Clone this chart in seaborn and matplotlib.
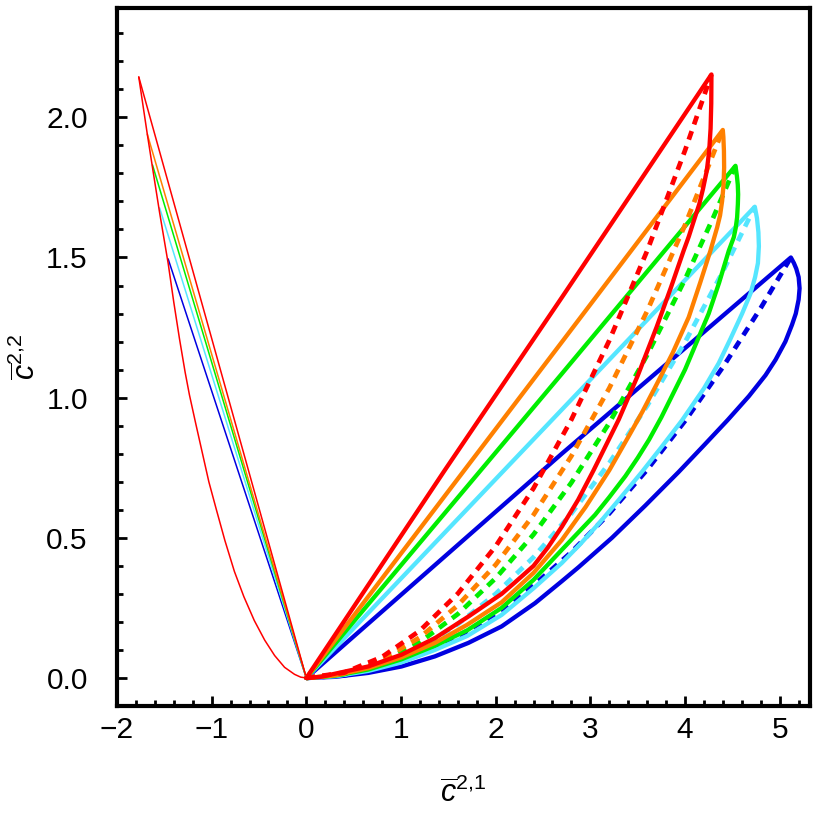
import matplotlib
matplotlib.use("Agg")
import matplotlib.pyplot as plt
import seaborn as sns
import pandas as pd
from matplotlib.ticker import MultipleLocator

# ---------------- data ----------------
# closed loops on the right: origin -> apex (upper branch) -> back to origin (lower branch)
red_loop_x = [0, 1.46, 2.70, 4.279,
              4.277, 4.27, 4.255, 4.23, 4.19, 4.15, 4.092, 4.04, 3.986, 3.85, 3.7, 3.5, 3.3,
              3.034, 2.87, 2.7, 2.55, 2.4, 2.2, 2.063, 1.711, 1.358, 1.005, 0.653, 0.3, 0.15, 0]
red_loop_y = [0, 0.74, 1.358, 2.153,
              2.05, 1.96, 1.88, 1.81, 1.745, 1.69, 1.63, 1.575, 1.525, 1.392, 1.252, 1.078, 0.922,
              0.741, 0.635, 0.54, 0.465, 0.40, 0.34, 0.30, 0.219, 0.142, 0.083, 0.041, 0.015, 0.004, 0]

orange_loop_x = [0, 2.698, 4.399,
                 4.405, 4.411, 4.413, 4.407, 4.392, 4.37, 4.339, 4.268, 4.16, 4.039, 3.87, 3.704,
                 3.55, 3.421, 3.20, 2.95, 2.698, 2.4, 2.063, 1.7, 1.358, 1.0, 0.653, 0.3, 0]
orange_loop_y = [0, 1.198, 1.955,
                 1.93, 1.88, 1.821, 1.76, 1.702, 1.65, 1.607, 1.524, 1.41, 1.287, 1.16, 1.05,
                 0.95, 0.872, 0.741, 0.61, 0.492, 0.375, 0.27, 0.19, 0.125, 0.073, 0.035, 0.009, 0]

green_loop_x = [0, 2.698, 4.533,
                4.548, 4.557, 4.561, 4.558, 4.55, 4.535, 4.515, 4.462, 4.36, 4.25, 4.0, 3.75, 3.62,
                3.5, 3.37, 3.2, 3.05, 2.698, 2.4, 2.063, 1.7, 1.358, 1.0, 0.653, 0.3, 0]
green_loop_y = [0, 1.085, 1.827,
                1.79, 1.76, 1.725, 1.69, 1.643, 1.605, 1.572, 1.524, 1.41, 1.30, 1.10, 0.93, 0.85,
                0.785, 0.72, 0.645, 0.582, 0.457, 0.35, 0.25, 0.17, 0.115, 0.066, 0.03, 0.008, 0]

cyan_loop_x = [0, 2.698, 4.737,
               4.76, 4.775, 4.78, 4.77, 4.74, 4.69, 4.603, 4.48, 4.356, 4.2, 3.968, 3.75, 3.545,
               3.3, 3.1, 2.9, 2.698, 2.4, 2.063, 1.7, 1.358, 1.0, 0.653, 0.3, 0]
cyan_loop_y = [0, 0.957, 1.681,
               1.64, 1.59, 1.54, 1.48, 1.43, 1.37, 1.30, 1.21, 1.123, 1.033, 0.919, 0.823, 0.735,
               0.635, 0.555, 0.48, 0.41, 0.32, 0.225, 0.15, 0.10, 0.055, 0.025, 0.006, 0]

blue_loop_x = [0, 2.698, 5.118,
               5.15, 5.175, 5.2, 5.21, 5.2, 5.17, 5.13, 5.06, 4.956, 4.85, 4.674, 4.45, 4.2, 3.933,
               3.58, 3.228, 2.875, 2.698, 2.416, 2.063, 1.711, 1.358, 1.005, 0.653, 0.30, 0]
blue_loop_y = [0, 0.80, 1.50,
               1.48, 1.46, 1.43, 1.39, 1.35, 1.30, 1.26, 1.20, 1.135, 1.08, 1.005, 0.92, 0.83, 0.735,
               0.615, 0.50, 0.395, 0.345, 0.267, 0.184, 0.125, 0.077, 0.041, 0.018, 0.004, 0]

# dashed curves from the origin up to each apex
red_dash_x = [0, 0.4, 0.8, 1.2, 1.6, 2.0, 2.4, 2.8, 3.2, 3.6, 4.0, 4.279]
red_dash_y = [0, 0.019, 0.075, 0.169, 0.301, 0.470, 0.677, 0.922, 1.204, 1.524, 1.882, 2.153]

orange_dash_x = [0, 0.4, 0.8, 1.2, 1.6, 2.0, 2.4, 2.8, 3.2, 3.6, 4.0, 4.399]
orange_dash_y = [0, 0.016, 0.065, 0.145, 0.259, 0.404, 0.582, 0.792, 1.034, 1.309, 1.616, 1.955]

green_dash_x = [0, 0.4, 0.8, 1.2, 1.6, 2.0, 2.4, 2.8, 3.2, 3.6, 4.0, 4.3, 4.533]
green_dash_y = [0, 0.014, 0.057, 0.128, 0.228, 0.356, 0.512, 0.697, 0.910, 1.152, 1.422, 1.644, 1.827]

cyan_dash_x = [0, 0.4, 0.8, 1.2, 1.6, 2.0, 2.4, 2.8, 3.2, 3.6, 4.0, 4.4, 4.737]
cyan_dash_y = [0, 0.012, 0.048, 0.108, 0.192, 0.300, 0.431, 0.587, 0.767, 0.971, 1.198, 1.450, 1.681]

blue_dash_x = [0, 0.4, 0.8, 1.2, 1.6, 2.0, 2.4, 2.8, 3.2, 3.6, 4.0, 4.4, 4.8, 5.118]
blue_dash_y = [0, 0.009, 0.037, 0.083, 0.147, 0.229, 0.330, 0.449, 0.587, 0.743, 0.917, 1.109, 1.320, 1.50]

# thin straight lines on the left: origin -> end point
left_end_x = {"blue": -1.46, "cyan": -1.55, "green": -1.625, "orange": -1.68, "red": -1.77}
left_end_y = {"blue": 1.495, "cyan": 1.677, "green": 1.83, "orange": 1.94, "red": 2.144}

# red parabola-like arc on the left
arc_x = [-1.77, -1.72, -1.68, -1.62, -1.55, -1.46, -1.40, -1.34, -1.28, -1.235, -1.17, -1.11,
         -1.03, -0.95, -0.86, -0.76, -0.66, -0.55, -0.44, -0.335, -0.23, -0.125, -0.06, 0.0]
arc_y = [2.144, 2.03, 1.94, 1.81, 1.66, 1.48, 1.34, 1.21, 1.09, 1.01, 0.91, 0.82,
         0.70, 0.60, 0.49, 0.38, 0.29, 0.205, 0.135, 0.08, 0.038, 0.013, 0.003, 0.0]

x_ticks = [-2, -1, 0, 1, 2, 3, 4, 5]
y_ticks = [0.0, 0.5, 1.0, 1.5, 2.0]

colors = {"red": "#FF0000", "orange": "#FF8000", "green": "#00EE00",
          "cyan": "#55E6FF", "blue": "#0000E0"}

loops = {"blue": (blue_loop_x, blue_loop_y), "cyan": (cyan_loop_x, cyan_loop_y),
         "green": (green_loop_x, green_loop_y), "orange": (orange_loop_x, orange_loop_y),
         "red": (red_loop_x, red_loop_y)}
dashes = {"blue": (blue_dash_x, blue_dash_y), "cyan": (cyan_dash_x, cyan_dash_y),
          "green": (green_dash_x, green_dash_y), "orange": (orange_dash_x, orange_dash_y),
          "red": (red_dash_x, red_dash_y)}
order = ["blue", "cyan", "green", "orange", "red"]

# ---------------- plot ----------------
sns.set_theme(style="white")
plt.rcParams["font.family"] = ["Liberation Sans", "DejaVu Sans"]
plt.rcParams["mathtext.fontset"] = "custom"
plt.rcParams["mathtext.rm"] = "Liberation Sans"
plt.rcParams["mathtext.it"] = "Liberation Sans:italic"

fig = plt.figure(figsize=(8.23, 8.16), dpi=100)
ax = fig.add_axes([117 / 823, 110 / 816, 693 / 823, 698 / 816])


def draw(xs, ys, **kw):
    df = pd.DataFrame({"x": xs, "y": ys})
    sns.lineplot(data=df, x="x", y="y", sort=False, estimator=None, ax=ax, legend=False, **kw)


# thin lines on the left
for c in order:
    draw([0, left_end_x[c]], [0, left_end_y[c]], color=colors[c], linewidth=1.1)
draw(arc_x, arc_y, color=colors["red"], linewidth=1.1)

# loops and dashed curves
for c in order:
    lx, ly = loops[c]
    draw(lx, ly, color=colors[c], linewidth=3.1, solid_joinstyle="round")
    dx, dy = dashes[c]
    draw(dx, dy, color=colors[c], linewidth=3.4, dashes=(1.9, 1.5))

for ln in ax.get_lines():
    ln.set_dash_capstyle("butt")

ax.set_xlim(-2.0, 5.32)
ax.set_ylim(-0.1, 2.39)
ax.set_xticks(x_ticks)
ax.set_xticklabels([("\u2212%d" % -v) if v < 0 else "%d" % v for v in x_ticks])
ax.set_yticks(y_ticks)
ax.set_yticklabels(["%.1f" % v for v in y_ticks])
ax.xaxis.set_minor_locator(MultipleLocator(0.2))
ax.yaxis.set_minor_locator(MultipleLocator(0.1))

for s in ax.spines.values():
    s.set_linewidth(3.0)
    s.set_color("black")

ax.tick_params(which="both", direction="in", top=False, right=False, bottom=True, left=True,
               color="black", labelsize=21.5, labelcolor="black")
ax.tick_params(which="major", length=7, width=2.0)
ax.tick_params(which="minor", length=4, width=2.0)
ax.tick_params(axis="y", which="major", pad=21)
ax.tick_params(axis="x", which="major", pad=7)

ax.set_xlabel(r"$\overline{c}^{2{,}1}$", fontsize=22, labelpad=24, color="black")
ax.set_ylabel(r"$\overline{c}^{2{,}2}$", fontsize=22, labelpad=3, color="black")
ax.grid(False)

fig.savefig("out.png", dpi=100)
